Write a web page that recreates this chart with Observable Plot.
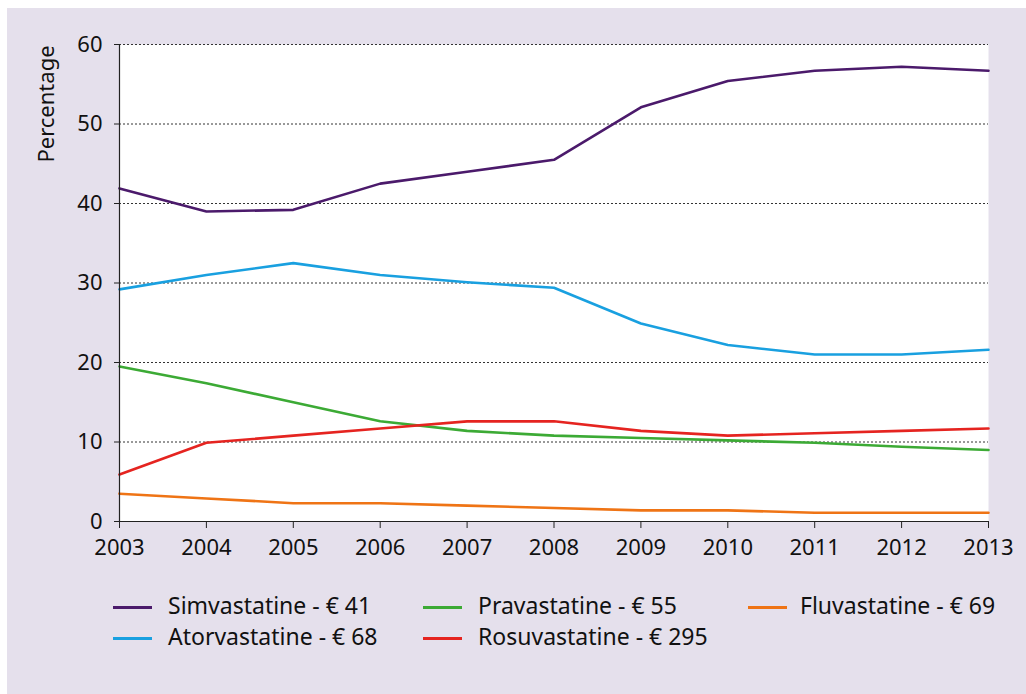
<!DOCTYPE html>
<html>
<head>
<meta charset="utf-8">
<script src="https://cdn.jsdelivr.net/npm/d3@7"></script>
<script src="https://cdn.jsdelivr.net/npm/@observablehq/plot@0.6"></script>
<style>
  html, body { margin: 0; padding: 0; background: #ffffff; }
  body { width: 1026px; height: 694px; position: relative; overflow: hidden; font-family: "Noto Sans", sans-serif; }
  #panel { position: absolute; left: 7px; top: 8px; width: 1019px; height: 686px; background: #e5e0ec; }
  #chart { position: absolute; left: 0; top: 0; }
  #ylabel { position: absolute; left: 45px; top: 104px; transform: translate(-50%, -50%) rotate(-90deg); font-size: 22px; color: #111; white-space: nowrap; }
  .leg { position: absolute; font-size: 23px; color: #111; white-space: nowrap; line-height: 1; }
  .sw { position: absolute; height: 3px; width: 39px; }
</style>
</head>
<body>
<div id="panel"><div id="chart"></div></div>
<div id="ylabel">Percentage</div>
<div id="legend"></div>
<script>
const years = [2003, 2004, 2005, 2006, 2007, 2008, 2009, 2010, 2011, 2012, 2013];
const seriesNames = ["Simvastatine - € 41", "Atorvastatine - € 68", "Pravastatine - € 55", "Rosuvastatine - € 295", "Fluvastatine - € 69"];
const simvastatine  = [41.9, 39.0, 39.2, 42.5, 44.0, 45.5, 52.1, 55.4, 56.7, 57.2, 56.7];
const atorvastatine = [29.2, 31.0, 32.5, 31.0, 30.1, 29.4, 24.9, 22.2, 21.0, 21.0, 21.6];
const pravastatine  = [19.5, 17.4, 15.0, 12.6, 11.4, 10.8, 10.5, 10.2, 9.9, 9.4, 9.0];
const rosuvastatine = [5.9, 9.9, 10.8, 11.7, 12.6, 12.6, 11.4, 10.8, 11.1, 11.4, 11.7];
const fluvastatine  = [3.5, 2.9, 2.3, 2.3, 2.0, 1.7, 1.4, 1.4, 1.1, 1.1, 1.1];
const yTicks = [0, 10, 20, 30, 40, 50, 60];
const colors = ["#4b1a6b", "#19a0e0", "#3caa35", "#e52420", "#ef7415"];

const allValues = [simvastatine, atorvastatine, pravastatine, rosuvastatine, fluvastatine];
const data = [];
allValues.forEach((vals, i) => {
  vals.forEach((v, j) => data.push({ series: seriesNames[i], year: years[j], value: v }));
});

const chart = Plot.plot({
  width: 1019,
  height: 560,
  marginLeft: 112,
  marginRight: 38,
  marginTop: 36,
  marginBottom: 47,
  style: { background: "transparent", fontFamily: "Noto Sans, sans-serif", fontSize: "22px", color: "#111" },
  x: { domain: [2003, 2013] },
  y: { domain: [0, 60] },
  color: { domain: seriesNames, range: colors },
  marks: [
    Plot.frame({ fill: "white", stroke: null }),
    Plot.gridY(yTicks.filter(d => d > 0), { stroke: "#333", strokeOpacity: 1, strokeDasharray: "2,2", strokeWidth: 1 }),
    Plot.lineY(data, { x: "year", y: "value", stroke: "series", strokeWidth: 2.6 }),
    Plot.ruleX([2003], { stroke: "#222", strokeWidth: 1.2 }),
    Plot.ruleY([0], { stroke: "#222", strokeWidth: 1.2 }),
    Plot.axisY(yTicks, { tickSize: 5, tickPadding: 12, label: null, fontSize: 22, stroke: "#222" }),
    Plot.axisX(years, { tickSize: 7, tickPadding: 11, tickFormat: d => String(d), label: null, fontSize: 22, stroke: "#222" })
  ]
});
document.getElementById("chart").appendChild(chart);

// legend
const legendPos = [
  { sx: 113, tx: 168, y: 607 },
  { sx: 113, tx: 168, y: 638 },
  { sx: 423, tx: 478, y: 607 },
  { sx: 423, tx: 478, y: 638 },
  { sx: 748, tx: 800, y: 607 }
];
const legend = document.getElementById("legend");
seriesNames.forEach((name, i) => {
  const p = legendPos[i];
  const sw = document.createElement("div");
  sw.className = "sw";
  sw.style.left = p.sx + "px";
  sw.style.top = (p.y - 1.5) + "px";
  sw.style.background = colors[i];
  legend.appendChild(sw);
  const t = document.createElement("div");
  t.className = "leg";
  t.textContent = name;
  t.style.left = p.tx + "px";
  t.style.top = (p.y - 13) + "px";
  legend.appendChild(t);
});
</script>
</body>
</html>
